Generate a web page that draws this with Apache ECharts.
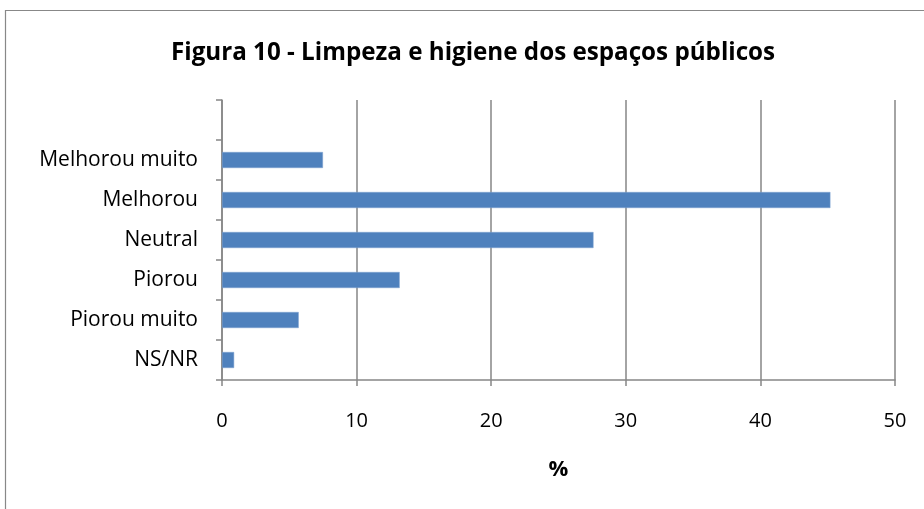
<!DOCTYPE html>
<html><head><meta charset="utf-8">
<script src="https://cdn.jsdelivr.net/npm/echarts@6/dist/echarts.min.js"></script>
<style>html,body{margin:0;padding:0;background:#fff}#c{width:924px;height:509px}</style>
</head><body><div id="c"></div>
<script>
const categories = ['NS/NR','Piorou muito','Piorou','Neutral','Melhorou','Melhorou muito',''];
const values = [0.9, 5.7, 13.2, 27.6, 45.2, 7.5, '-'];
const xTicks = [0, 10, 20, 30, 40, 50];
const titleText = 'Figura 10 - Limpeza e higiene dos espaços públicos';
const axisName = '%';

const chart = echarts.init(document.getElementById('c'), null, {renderer:'canvas'});
const font = "'Open Sans', 'Noto Sans', sans-serif";
chart.setOption({
  animation:false,
  backgroundColor:'#fff',
  graphic:[{type:'rect', shape:{x:5.5,y:10.5,width:940,height:520}, style:{fill:'none',stroke:'#888',lineWidth:1.2}, silent:true}],
  title:{text:titleText, left:166, top:36, textStyle:{fontFamily:font, fontWeight:'bold', fontSize:24.2, color:'#000'}},
  grid:{left:222, right:29, top:100, bottom:129, containLabel:false},
  xAxis:{type:'value', min:xTicks[0], max:xTicks[xTicks.length-1], interval:10,
    name:axisName, nameLocation:'middle', nameGap:79,
    nameTextStyle:{fontFamily:font, fontWeight:'bold', fontSize:22, color:'#000'},
    axisLine:{show:true, lineStyle:{color:'#868686', width:1.5}},
    axisTick:{show:true, length:6, lineStyle:{color:'#868686', width:1.5}},
    axisLabel:{margin:31, fontFamily:font, fontSize:20, color:'#000'},
    splitLine:{show:true, lineStyle:{color:'#868686', width:1.5}}},
  yAxis:{type:'category', data:categories, boundaryGap:true,
    axisLine:{show:true, lineStyle:{color:'#868686', width:1.5}},
    axisTick:{show:true, length:6, lineStyle:{color:'#868686', width:1.5}},
    axisLabel:{margin:24, fontFamily:font, fontSize:21, color:'#000'},
    splitLine:{show:false}},
  series:[{type:'bar', data:values, barWidth:'40%',
    itemStyle:{color:'#4F81BD', borderColor:'#7fa3d0', borderWidth:0.5}}]
});
</script></body></html>
